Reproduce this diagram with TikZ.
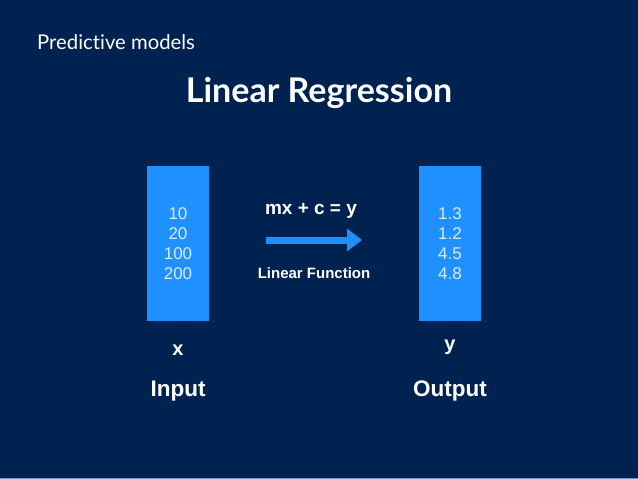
\documentclass[tikz,border=0pt]{standalone}
\usepackage{fontspec}
\usetikzlibrary{arrows.meta}
\setmainfont{Liberation Sans}
\newfontfamily\titlefont[Ligatures=NoCommon]{Lato}
\definecolor{bgnavy}{RGB}{0,34,80}
\definecolor{boxblue}{RGB}{30,144,255}
\definecolor{numcol}{RGB}{220,236,255}
\definecolor{edgeline}{RGB}{128,144,176}
\begin{document}
\begin{tikzpicture}[x=1pt,y=-1pt,
  databox/.style={fill=boxblue,draw=none,minimum width=62pt,minimum height=155pt,inner sep=0pt},
  numtext/.style={text=numcol,font=\fontsize{17}{20}\selectfont,align=center,inner sep=0pt},
  boldlabel/.style={text=white,font=\bfseries\fontsize{#1}{#1}\selectfont,inner sep=0pt},
  flowarrow/.style={draw=boxblue,line width=7pt,-{Triangle[length=15pt,width=22pt]},shorten >=0pt}
]
\useasboundingbox (0,0) rectangle (638,479);
\fill[bgnavy] (0,0) rectangle (638,479);
\fill[edgeline] (0,478) rectangle (638,479);

\node[text=white,font=\titlefont\fontsize{20.3}{20}\selectfont,anchor=base west,inner sep=0pt] (sub) at (37,49) {Predictive models};
\node[text=white,font=\titlefont\bfseries\fontsize{34}{34}\selectfont,anchor=base,inner sep=0pt] (title) at (319,102) {Linear Regression};

\node[databox,anchor=north west] (inbox) at (147,166) {};
\node[databox,anchor=north west] (outbox) at (419,166) {};

\node[numtext] (innums) at (178,244) {10\\20\\100\\200};
\node[numtext] (outnums) at (450,244) {1.3\\1.2\\4.5\\4.8};

\coordinate (arrS) at (266,240);
\coordinate (arrE) at (362,240);
\draw[flowarrow] (arrS) -- (arrE);

\node[boldlabel=19,anchor=base] (eq) at (311,214) {mx + c = y};
\node[boldlabel=15,anchor=base] (lf) at (314,278) {Linear Function};

\node[boldlabel=20,anchor=base] (xl) at (178,355) {x};
\node[boldlabel=20,anchor=base] (yl) at (450,350) {y};
\node[boldlabel=22.5,anchor=base] (inl) at (178,396) {Input};
\node[boldlabel=22.5,anchor=base] (outl) at (450,396) {Output};
\end{tikzpicture}
\end{document}
